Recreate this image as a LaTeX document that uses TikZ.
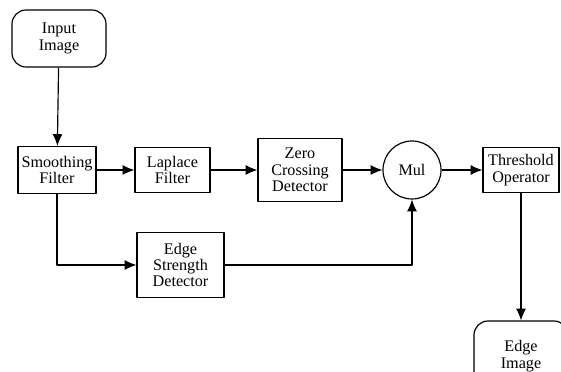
\documentclass[tikz,border=0pt]{standalone}
\usepackage{fontspec}
\setmainfont{Liberation Serif}
\usetikzlibrary{arrows.meta}
\begin{document}
\begin{tikzpicture}[x=0.03cm,y=-0.03cm,font=\fontsize{13.8}{14}\selectfont,line width=1pt,line join=round,>={Latex[length=10pt,width=8.5pt]},
	blk/.style={draw,align=center,inner sep=0pt},
	term/.style={blk,rounded corners=12pt,minimum width=2.82cm,minimum height=1.71cm}]
			\useasboundingbox (0,0) rectangle (561,372);
			% terminals
			\node[term] (in) at (59,38.5) {Input\\Image};
			\node[term,minimum height=2.1cm] (out) at (521,356) {Edge\\Image};
			% processing stages
			\node[blk,minimum width=2.34cm,minimum height=1.41cm] (sm) at (57,170) {Smoothing\\Filter};
			\node[blk,minimum width=2.25cm,minimum height=1.35cm] (lap) at (172.5,170) {Laplace\\Filter};
			\node[blk,minimum width=2.52cm,minimum height=1.89cm] (zc) at (300,170) {Zero\\Crossing\\Detector};
			\node[blk,circle,minimum size=1.74cm] (mul) at (412,170) {Mul};
			\node[blk,minimum width=2.28cm,minimum height=1.35cm] (th) at (521,170) {Threshold\\Operator};
			\node[blk,minimum width=2.61cm,minimum height=1.95cm] (es) at (180.5,265) {Edge\\Strength\\Detector};
			% connections
			\draw[->] (in)--(sm);
			\draw[->] (sm)--(lap);
			\draw[->] (lap)--(zc);
			\draw[->] (zc)--(mul);
			\draw[->] (mul)--(th);
			\draw[->] (sm.south)|-(es);
			\draw[->] (es.east)-|(mul.south);
			\draw[->] (th)--(out);
			\end{tikzpicture}
\end{document}
